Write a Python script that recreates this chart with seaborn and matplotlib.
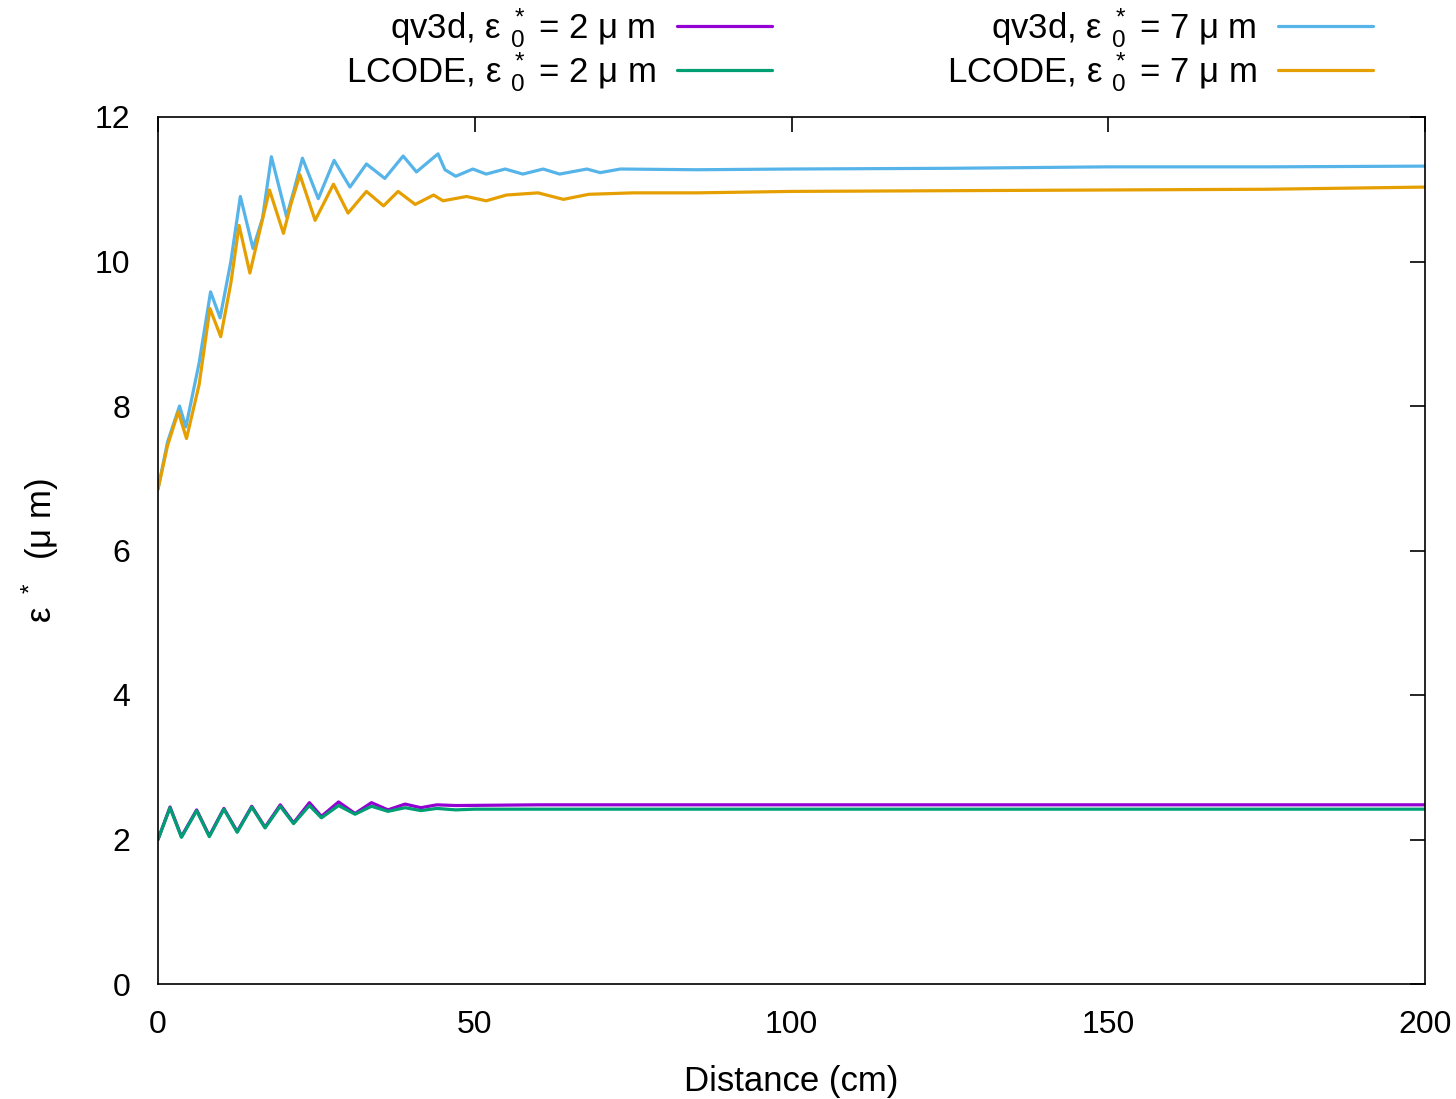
import numpy as np
import pandas as pd
import matplotlib
matplotlib.use("Agg")
import matplotlib.pyplot as plt
import seaborn as sns

# ---- data ----
x_qv3d_2 = [0, 1.9, 3.7, 6.1, 8.1, 10.4, 12.5, 14.8, 16.9, 19.3, 21.4, 23.9, 25.8, 28.5,
            31.1, 33.7, 36.3, 39.0, 41.5, 44, 47, 60, 80, 100, 150, 200]
y_qv3d_2 = [2.0, 2.45, 2.04, 2.41, 2.05, 2.43, 2.11, 2.46, 2.17, 2.48, 2.23, 2.51, 2.32, 2.52,
            2.36, 2.51, 2.41, 2.49, 2.44, 2.48, 2.47, 2.48, 2.48, 2.48, 2.48, 2.48]

x_lcode_2 = [0, 1.9, 3.7, 6.1, 8.1, 10.4, 12.5, 14.8, 16.9, 19.3, 21.4, 23.9, 25.8, 28.5,
             31.1, 33.7, 36.3, 39.0, 41.5, 44, 47, 50, 60, 80, 100, 150, 200]
y_lcode_2 = [2.0, 2.44, 2.03, 2.40, 2.04, 2.42, 2.10, 2.45, 2.16, 2.46, 2.22, 2.47, 2.30, 2.47,
             2.35, 2.46, 2.39, 2.44, 2.40, 2.43, 2.41, 2.42, 2.42, 2.42, 2.42, 2.42, 2.42]

x_qv3d_7 = [0, 1.5, 3.4, 4.4, 6.5, 8.3, 9.8, 11.5, 13.0, 15.0, 16.5, 17.9, 20.3, 21.5, 22.8,
            25.3, 27.8, 30.3, 32.9, 35.8, 38.7, 40.8, 44.2, 45.3, 47.0, 49.7, 51.8, 54.8,
            57.6, 60.8, 63.4, 67.7, 69.8, 73, 85, 100, 125, 150, 175, 200]
y_qv3d_7 = [6.85, 7.5, 8.0, 7.71, 8.6, 9.58, 9.22, 10.0, 10.9, 10.18, 10.6, 11.45, 10.62, 11.0, 11.43,
            10.87, 11.40, 11.03, 11.35, 11.15, 11.46, 11.24, 11.49, 11.27, 11.18, 11.28, 11.21, 11.28,
            11.21, 11.28, 11.21, 11.28, 11.23, 11.28, 11.27, 11.28, 11.29, 11.31, 11.31, 11.32]

x_lcode_7 = [0, 1.5, 3.2, 4.5, 6.5, 8.2, 9.9, 11.5, 12.8, 14.5, 16.0, 17.6, 19.8, 21.0, 22.4,
             24.8, 27.7, 30.0, 32.9, 35.6, 37.9, 40.6, 43.5, 45, 48.7, 51.8, 55, 60, 64, 68,
             75, 85, 100, 125, 150, 175, 200]
y_lcode_7 = [6.85, 7.45, 7.92, 7.55, 8.3, 9.35, 8.96, 9.7, 10.5, 9.84, 10.4, 10.99, 10.39, 10.8, 11.20,
             10.57, 11.07, 10.67, 10.97, 10.77, 10.97, 10.79, 10.92, 10.84, 10.90, 10.84, 10.92, 10.95,
             10.86, 10.93, 10.95, 10.95, 10.97, 10.98, 10.99, 11.0, 11.03]

labels = [r"qv3d, ε $_0^*$ = 2 μ m", r"LCODE, ε $_0^*$ = 2 μ m",
          r"qv3d, ε $_0^*$ = 7 μ m", r"LCODE, ε $_0^*$ = 7 μ m"]
colors = ["#9400d3", "#009e73", "#56b4e9", "#e69f00"]
series = [(x_qv3d_2, y_qv3d_2), (x_lcode_2, y_lcode_2),
          (x_qv3d_7, y_qv3d_7), (x_lcode_7, y_lcode_7)]
xticks = [0, 50, 100, 150, 200]
yticks = [0, 2, 4, 6, 8, 10, 12]

# ---- style ----
sns.set_theme(style="white")
plt.rcParams['font.family'] = ['Liberation Sans', 'DejaVu Sans']
plt.rcParams['mathtext.fontset'] = 'custom'
plt.rcParams['mathtext.rm'] = 'Liberation Sans'
plt.rcParams['mathtext.it'] = 'Liberation Sans'
plt.rcParams['mathtext.bf'] = 'Liberation Sans'
plt.rcParams['text.color'] = 'black'
plt.rcParams['axes.labelcolor'] = 'black'

W, H = 1456, 1099
fig = plt.figure(figsize=(W / 100, H / 100), dpi=100)
ax = fig.add_axes([158 / W, 1 - 984 / H, (1425 - 158) / W, (984 - 117) / H])

for (xs, ys), lab, col in zip(series, labels, colors):
    df = pd.DataFrame({"x": xs, "y": ys})
    sns.lineplot(data=df, x="x", y="y", ax=ax, color=col, lw=2.3, label=lab,
                 estimator=None, sort=False)

ax.set_xlim(0, 200)
ax.set_ylim(0, 12)
ax.set_xticks(xticks)
ax.set_yticks(yticks)
ax.tick_params(direction="in", length=11, width=1.2, top=True, right=True,
               labelsize=23, colors="black")
ax.tick_params(axis="x", pad=19)
ax.tick_params(axis="y", pad=20)
for s in ax.spines.values():
    s.set_color("black")
    s.set_linewidth(1.2)
    s.set_visible(True)

ax.set_xlabel("Distance (cm)", fontsize=25, labelpad=18)
ax.set_ylabel(r"ε $^*$  (μ m)", fontsize=25, labelpad=24)

handles, labs = ax.get_legend_handles_labels()
if ax.get_legend() is not None:
    ax.get_legend().remove()

common = dict(loc="center right", markerfirst=False, frameon=False, fontsize=25,
              handlelength=2.75, handletextpad=0.6, labelspacing=0.0,
              borderpad=0, borderaxespad=0)
fig.legend(handles[:2], labs[:2], bbox_to_anchor=(772 / W, 1 - 50 / H), **common)
fig.legend(handles[2:], labs[2:], bbox_to_anchor=(1373 / W, 1 - 50 / H), **common)

fig.savefig("out.png", dpi=100)
